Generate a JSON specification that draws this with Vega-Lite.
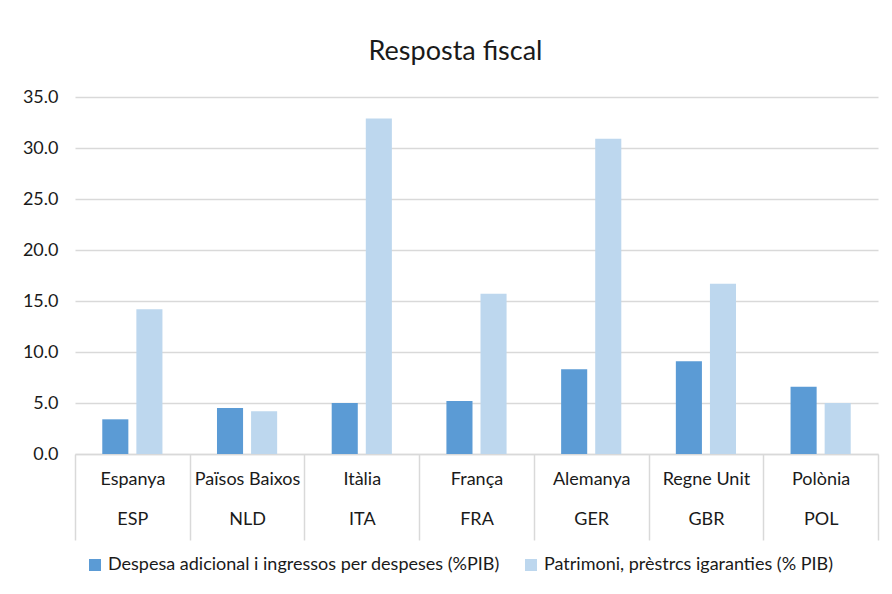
{
  "$schema": "https://vega.github.io/schema/vega-lite/v6.json",
  "width": 803,
  "height": 357,
  "autosize": {"type": "none"},
  "padding": {"left": 75, "top": 97, "right": 14, "bottom": 140},
  "background": "white",
  "title": {
    "text": "Resposta fiscal",
    "font": "Lato",
    "fontSize": 27,
    "fontWeight": "normal",
    "color": "#1a1a1a",
    "anchor": "middle",
    "dx": -21,
    "offset": 22
  },
  "data": {
    "values": [
      {"label": "Espanya|ESP", "series": "Despesa adicional i ingressos per despeses (%PIB)", "value": 3.4},
      {"label": "Espanya|ESP", "series": "Patrimoni, prèstrcs igaranties (% PIB)", "value": 14.2},
      {"label": "Països Baixos|NLD", "series": "Despesa adicional i ingressos per despeses (%PIB)", "value": 4.5},
      {"label": "Països Baixos|NLD", "series": "Patrimoni, prèstrcs igaranties (% PIB)", "value": 4.2},
      {"label": "Itàlia|ITA", "series": "Despesa adicional i ingressos per despeses (%PIB)", "value": 5.0},
      {"label": "Itàlia|ITA", "series": "Patrimoni, prèstrcs igaranties (% PIB)", "value": 32.9},
      {"label": "França|FRA", "series": "Despesa adicional i ingressos per despeses (%PIB)", "value": 5.2},
      {"label": "França|FRA", "series": "Patrimoni, prèstrcs igaranties (% PIB)", "value": 15.7},
      {"label": "Alemanya|GER", "series": "Despesa adicional i ingressos per despeses (%PIB)", "value": 8.3},
      {"label": "Alemanya|GER", "series": "Patrimoni, prèstrcs igaranties (% PIB)", "value": 30.9},
      {"label": "Regne Unit|GBR", "series": "Despesa adicional i ingressos per despeses (%PIB)", "value": 9.1},
      {"label": "Regne Unit|GBR", "series": "Patrimoni, prèstrcs igaranties (% PIB)", "value": 16.7},
      {"label": "Polònia|POL", "series": "Despesa adicional i ingressos per despeses (%PIB)", "value": 6.6},
      {"label": "Polònia|POL", "series": "Patrimoni, prèstrcs igaranties (% PIB)", "value": 5.0}
    ]
  },
  "mark": {"type": "bar"},
  "encoding": {
    "x": {
      "field": "label",
      "type": "nominal",
      "sort": null,
      "scale": {"paddingInner": 0, "paddingOuter": 0},
      "axis": {
        "title": null,
        "labelExpr": "datum.value ? split(datum.value, '|') : ''",
        "labelAngle": 0,
        "labelFont": "Lato",
        "labelFontSize": 18,
        "labelColor": "#1a1a1a",
        "labelLineHeight": 40,
        "labelBaseline": "top",
        "labelPadding": -70,
        "tickBand": "extent",
        "tickSize": 86,
        "tickColor": "#d9d9d9",
        "tickWidth": 1.5,
        "domainColor": "#d9d9d9",
        "domainWidth": 1.5,
        "grid": false
      }
    },
    "xOffset": {
      "field": "series",
      "type": "nominal",
      "sort": null,
      "scale": {"paddingInner": 0.235, "paddingOuter": 0.8}
    },
    "y": {
      "field": "value",
      "type": "quantitative",
      "scale": {"domain": [0, 35], "nice": false},
      "axis": {
        "title": null,
        "values": [0, 5, 10, 15, 20, 25, 30, 35],
        "format": ".1f",
        "labelFont": "Lato",
        "labelFontSize": 18,
        "labelColor": "#1a1a1a",
        "labelPadding": 17,
        "domain": false,
        "ticks": false,
        "gridColor": "#d9d9d9",
        "gridWidth": 1.5
      }
    },
    "color": {
      "field": "series",
      "type": "nominal",
      "sort": null,
      "scale": {"range": ["#5B9BD5", "#BDD7EE"]},
      "legend": {
        "title": null,
        "orient": "none",
        "legendX": 11,
        "legendY": 459,
        "direction": "horizontal",
        "symbolType": "square",
        "symbolSize": 144,
        "symbolStrokeWidth": 0,
        "symbolOffset": 0,
        "labelOffset": 4,
        "labelFont": "Lato",
        "labelFontSize": 18,
        "labelColor": "#1a1a1a",
        "columnPadding": 22,
        "labelLimit": 600
      }
    }
  },
  "config": {
    "view": {"stroke": null}
  }
}
